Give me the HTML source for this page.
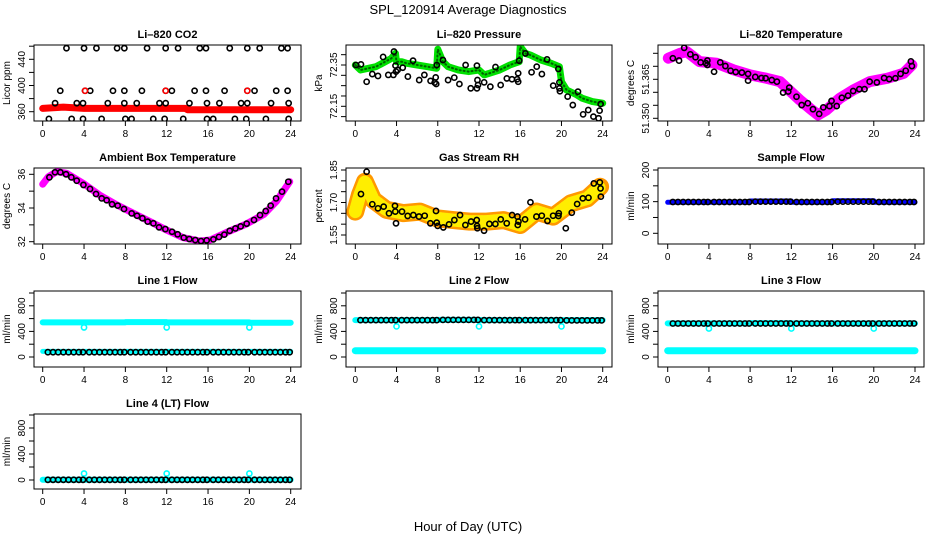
<!DOCTYPE html>
<html><head><meta charset="utf-8">
<style>
html,body{margin:0;padding:0;background:#fff;}
svg{display:block;font-family:"Liberation Sans",Arial,sans-serif;}
</style></head>
<body>
<svg id="chart" width="936" height="540" viewBox="0 0 936 540" xmlns="http://www.w3.org/2000/svg">
<text x="468" y="14" text-anchor="middle" font-size="13">SPL_120914  Average Diagnostics</text>
<text x="468" y="531" text-anchor="middle" font-size="13">Hour of Day (UTC)</text>
</svg>
<script>
// ---------- DATA ----------
const xTickValues = [0,4,8,12,16,20,24];

// Li-820 CO2
const co2BandHours = [0,1,2,4,8,12,13.8,14,16,20,24];
const co2BandValues = [365,366,367,365,365,365,365,363,363,363,363];
const co2PointHours = [2.3,4,5.2,7.2,7.9,10.1,11.9,13.1,15.2,15.8,18.1,19.8,21,23.1,23.7,
  1.7,4.1,4.6,6.8,7.9,9.6,11.9,12.5,14.7,15.8,17.6,19.8,20.5,22.6,23.7,
  1.2,3.3,3.9,6.3,7.9,9.1,11.3,11.9,14.2,15.9,17.1,19.2,19.8,22.1,23.8,
  0.6,2.8,3.9,5.7,8,8.6,10.7,11.8,13.6,15.9,16.5,18.6,19.7,21.6,23.8];
const co2PointValues = [457,457,457,457,457,457,457,457,457,457,457,457,457,457,457,
  392,392,392,392,392,392,392,392,392,392,392,392,392,392,392,
  373,373,373,373,373,373,373,373,373,373,373,373,373,373,373,
  349,349,349,349,349,349,349,349,349,349,349,349,349,349,349];
const co2RedHours = [4.1,11.9,19.8];
const co2RedValues = [392,392,392];

// Li-820 Pressure
const presBandHours = [0,0.5,2,3.5,3.9,4.0,4.5,5,6,7,7.9,8.0,8.5,9,10,11,12,12.5,13,14,15,15.9,16,16.5,17,18,19,19.8,20,20.5,21.5,22,23,24];
const presBandValues = [72.35,72.326,72.342,72.382,72.406,72.366,72.366,72.358,72.35,72.342,72.334,72.426,72.366,72.342,72.326,72.318,72.326,72.302,72.31,72.326,72.35,72.366,72.439,72.406,72.398,72.374,72.358,72.342,72.269,72.229,72.205,72.189,72.173,72.165];
const presPointHours = [0.06,0.55,1.1,1.65,2.2,2.7,3.2,3.7,3.75,3.9,3.95,4.1,4.6,5.1,5.6,6.2,6.7,7.3,7.7,7.8,7.85,7.9,8.5,9.0,9.6,10.1,10.7,11.2,11.8,11.8,11.85,11.9,12.5,13.1,13.6,14.1,14.7,15.2,15.7,15.8,15.8,15.9,16.5,17.1,17.6,18.1,18.6,19.2,19.7,19.8,19.8,19.85,20.6,21.1,21.6,22.1,22.6,23.1,23.6,23.7,23.8];
const presPointValues = [72.350,72.353,72.269,72.306,72.297,72.389,72.302,72.302,72.415,72.347,72.318,72.326,72.337,72.294,72.371,72.277,72.302,72.273,72.265,72.290,72.258,72.350,72.374,72.277,72.289,72.258,72.350,72.237,72.347,72.237,72.277,72.253,72.266,72.245,72.340,72.253,72.285,72.281,72.281,72.310,72.269,72.371,72.406,72.315,72.342,72.306,72.377,72.250,72.331,72.266,72.237,72.223,72.197,72.156,72.221,72.111,72.132,72.100,72.092,72.129,72.161];

// Li-820 Temperature
const tempBandHours = [0.06,1.2,1.85,3.1,4.75,6.4,8.0,9.6,10.9,11.6,12.8,13.8,14.6,15.4,16.7,18.0,19.6,21.3,22.9,23.7];
const tempBandValues = [51.3731,51.3750,51.3756,51.3718,51.3712,51.3686,51.3667,51.3654,51.3641,51.3615,51.3571,51.3538,51.3513,51.3532,51.3577,51.3609,51.3641,51.3654,51.3673,51.3705];
const tempPointHours = [0.5,1.1,1.6,2.2,2.7,3.2,3.7,3.85,3.85,4.5,5.1,5.6,6.1,6.6,7.2,7.8,7.8,8.5,9.1,9.5,10.1,10.6,11.2,11.7,11.8,12.5,13.0,13.6,14.1,14.7,15.1,15.7,15.9,16.4,16.9,17.5,18.0,18.6,19.1,19.6,20.3,21.0,21.5,22.1,22.6,23.1,23.6,23.7];
const tempPointValues = [51.3731,51.3722,51.3771,51.3746,51.3735,51.3715,51.3712,51.3722,51.3705,51.3679,51.3715,51.3701,51.3683,51.3678,51.3676,51.3671,51.3645,51.3659,51.3655,51.3654,51.3647,51.3641,51.3599,51.3603,51.3618,51.3583,51.3551,51.3558,51.3535,51.3517,51.3542,51.3547,51.3567,51.3547,51.3579,51.3587,51.3605,51.3612,51.3612,51.3641,51.3638,51.3655,51.3651,51.3654,51.3671,51.3683,51.3719,51.3701];

// Ambient Box Temperature
const ambBandHours = [0,0.55,1.35,2.3,3.9,5.5,7.2,8.8,10.4,12,13.6,15.2,16.2,17.8,19.7,21.4,22.6,23.9];
const ambBandValues = [35.41,35.86,36.16,36.06,35.47,34.77,34.18,33.68,33.19,32.69,32.24,32.04,32.10,32.55,33.05,33.62,34.38,35.56];
const ambPointHours = [0.65,1.19,1.71,2.26,2.77,3.29,3.94,4.58,5.16,5.71,6.19,6.71,7.26,7.87,8.61,9.13,9.65,10.16,10.71,11.26,11.87,12.52,13.06,13.65,14.19,14.77,15.32,15.87,16.52,17.06,17.58,18.10,18.65,19.16,19.74,20.45,21.03,21.58,22.06,22.58,23.16,23.77];
const ambPointValues = [35.82,36.12,36.12,36.00,35.82,35.62,35.37,35.13,34.83,34.57,34.46,34.22,34.14,33.94,33.68,33.54,33.39,33.19,33.09,32.85,32.75,32.59,32.44,32.24,32.16,32.10,32.04,32.08,32.14,32.28,32.42,32.65,32.79,32.91,33.07,33.29,33.58,33.82,34.14,34.57,34.97,35.56];

// Gas Stream RH
const rhBandHours = [0,0.45,0.94,1.75,3.04,4.66,6.28,7.9,9.5,11.1,12.75,14.4,16.0,17.6,19.2,20.9,22.5,23.75];
const rhBandValues = [1.658,1.735,1.796,1.712,1.666,1.651,1.658,1.627,1.619,1.612,1.612,1.619,1.596,1.658,1.635,1.696,1.719,1.773];
const rhPointHours = [1.10,0.55,1.65,2.2,2.75,3.27,3.85,3.88,3.95,4.53,5.08,5.63,6.18,6.73,7.28,7.83,7.9,7.99,8.54,9.09,9.61,10.16,10.68,11.23,11.78,11.81,11.84,12.49,13.01,13.59,14.11,14.69,15.21,15.73,15.76,15.83,16.47,16.99,17.57,18.09,18.64,19.19,19.71,19.74,20.42,21.0,21.52,22.07,22.62,23.14,23.72,23.79,23.82];
const rhPointValues = [1.842,1.739,1.692,1.673,1.681,1.650,1.685,1.658,1.604,1.658,1.638,1.642,1.635,1.639,1.604,1.661,1.607,1.592,1.585,1.599,1.619,1.642,1.596,1.612,1.619,1.592,1.581,1.570,1.601,1.601,1.622,1.604,1.642,1.635,1.596,1.612,1.622,1.701,1.635,1.639,1.615,1.639,1.638,1.650,1.581,1.653,1.693,1.719,1.722,1.788,1.793,1.765,1.727];

// Flow panels: segment boundaries (4-hour blocks) and levels
const flowSegHours = [0,4,8,12,16,20,24];
const flowPointHours = [0.5,1.0,1.5,2.0,2.5,3.0,3.5,3.9,4.5,5.0,5.5,6.0,6.5,7.0,7.5,7.9,8.5,9.0,9.5,10.0,10.5,11.0,11.5,11.9,12.5,13.0,13.5,14.0,14.5,15.0,15.5,15.9,16.5,17.0,17.5,18.0,18.5,19.0,19.5,19.9,20.5,21.0,21.5,22.0,22.5,23.0,23.5,23.9];
const dipHours = [4,12,20];

const sampleBandLevels = [98,98,102,98,103,98];
const sampleBlackLevels = [99,99,100,99,100,99];

const line1HighLevels = [540,540,545,540,540,535];
const line1LowLevels = [88,88,88,88,88,88];
const line1BlackLevels = [75,75,75,75,75,75];
const line1DipValues = [462,462,462];

const line2HighLevels = [576,576,580,576,576,576];
const line2LowLevels = [99,99,99,99,99,99];
const line2BlackLevels = [576,576,580,576,576,572];
const line2DipValues = [478,478,478];

const line3HighLevels = [525,525,530,525,525,525];
const line3LowLevels = [99,99,99,99,99,99];
const line3BlackLevels = [524,524,524,524,524,524];
const line3DipValues = [445,445,445];

const line4HighLevels = [5,5,5,5,5,5];
const line4BlackLevels = [3,3,3,3,3,3];
const line4DipValues = [100,100,100];

// ---------- LAYOUT ----------
const NS = "http://www.w3.org/2000/svg";
const svg = document.getElementById('chart');
const cols = [{l:34,r:301,x0:42.7,x24:290.7},{l:346,r:612,x0:355.3,x24:602.7},{l:658,r:924,x0:667.7,x24:915}];
const rows = [{t:45,b:121},{t:168,b:244},{t:291,b:367},{t:414,b:489}];

function mk(tag, attrs, parent){
  const e = document.createElementNS(NS, tag);
  for (const k in attrs) e.setAttribute(k, attrs[k]);
  (parent||svg).appendChild(e);
  return e;
}

function panel(name, title, ytitle, c, r, yA, pA, yB, pB, yTicks, yLabels){
  const col = cols[c], row = rows[r];
  const g = mk('g', {});
  
  
  const xs = h => col.x0 + (h/24)*(col.x24-col.x0);
  const ys = v => pA + (v-yA)*(pB-pA)/(yB-yA);
  const clipId = 'clip-' + name;
  const cp = mk('clipPath', {id:clipId}, g);
  mk('rect', {x:col.l, y:row.t, width:col.r-col.l, height:row.b-row.t}, cp);
  const plot = mk('g', {'clip-path':'url(#'+clipId+')'}, g);
  
  
  const box = mk('rect', {x:col.l, y:row.t, width:col.r-col.l, height:row.b-row.t, fill:'none', stroke:'#000', 'stroke-width':1}, g);
  
  
  const t = mk('text', {x:(col.l+col.r)/2, y:row.t-7, 'text-anchor':'middle', 'font-size':11, 'font-weight':'bold'}, g);
  t.textContent = title;
  
  
  const yt = mk('text', {x:0, y:0, 'text-anchor':'middle', 'font-size':10, transform:'translate('+(col.l-24)+','+((row.t+row.b)/2)+') rotate(-90)'}, g);
  yt.textContent = ytitle;
  
  
  const yax = mk('g', {}, g);
  
  
  const yFirst = ys(yTicks[0]), yLast = ys(yTicks[yTicks.length-1]);
  mk('line', {x1:col.l, x2:col.l, y1:yFirst, y2:yLast, stroke:'#000'}, yax);
  yTicks.forEach((v,i)=>{
    const y = ys(v);
    mk('line', {x1:col.l-5, x2:col.l, y1:y, y2:y, stroke:'#000'}, yax);
    if (yLabels[i]) {
      const lb = mk('text', {x:0, y:0, 'text-anchor':'middle', 'font-size':10, transform:'translate('+(col.l-9)+','+y+') rotate(-90)'}, yax);
      lb.textContent = yLabels[i];
      
      
    }
  });
  const xax = mk('g', {}, g);
  
  
  mk('line', {x1:xs(0), x2:xs(24), y1:row.b, y2:row.b, stroke:'#000'}, xax);
  xTickValues.forEach(h=>{
    mk('line', {x1:xs(h), x2:xs(h), y1:row.b, y2:row.b+5, stroke:'#000'}, xax);
    const lb = mk('text', {x:xs(h), y:row.b+16, 'text-anchor':'middle', 'font-size':10}, xax);
    lb.textContent = h;
    
    
  });
  return {plot, xs, ys};
}

function band(p, name, hours, vals, color, width, dash){
  const pts = hours.map((h,i)=>p.xs(h).toFixed(1)+','+p.ys(vals[i]).toFixed(1)).join(' ');
  const pl = mk('polyline', {points:pts, fill:'none', stroke:color, 'stroke-width':width, 'stroke-linejoin':'round', 'stroke-linecap':'round'}, p.plot);
  if (dash) pl.setAttribute('stroke-dasharray', dash);
  
  
}
function pts(p, name, hours, vals, color, r){
  const g = mk('g', {}, p.plot);
  
  
  hours.forEach((h,i)=>{
    const c = mk('circle', {cx:p.xs(h), cy:p.ys(vals[i]), r:r||2.6, fill:'none', stroke:color, 'stroke-width':1.6}, g);
    
    
  });
}
function segVal(h, levels){
  let k = 0;
  for (let i=0;i<flowSegHours.length-1;i++) if (h>=flowSegHours[i]) k=i;
  return levels[k];
}
function stepBand(p, name, levels, color, width){
  const hs = [], vs = [];
  for (let i=0;i<levels.length;i++){ hs.push(flowSegHours[i]); vs.push(levels[i]); hs.push(flowSegHours[i+1]); vs.push(levels[i]); }
  band(p, name, hs, vs, color, width);
}
function flowPts(p, name, levels, color){
  pts(p, name, flowPointHours, flowPointHours.map(h=>segVal(h, levels)), color);
}

// ---------- PANELS ----------
const flowTicks = [0,200,400,600,800,1000], flowLabels = ['0','','400','','800',''];

let p = panel('co2','Li\u2013820 CO2','Licor ppm',0,0,360,111.7,460,46.2,[360,380,400,420,440,460],['360','','400','','440','']);
band(p,'co2-red-band',co2BandHours,co2BandValues,'#ff0000',7);
pts(p,'co2-black-points',co2PointHours,co2PointValues,'#000');
pts(p,'co2-red-points',co2RedHours,co2RedValues,'#ff0000');

p = panel('pressure','Li\u2013820 Pressure','kPa',1,0,72.35,65,72.15,106.3,[72.10,72.15,72.20,72.25,72.30,72.35,72.40],['','72.15','','','','72.35','']);
band(p,'pressure-green-band',presBandHours,presBandValues,'#00e000',7);
band(p,'pressure-green-dots',presBandHours,presBandValues,'#006000',2,'1 3');
pts(p,'pressure-black-points',presPointHours,presPointValues,'#000');

p = panel('li820-temp','Li\u2013820 Temperature','degrees C',2,0,51.350,118.3,51.375,53.3,[51.350,51.355,51.360,51.365,51.370,51.375],['51.350','','','51.365','','']);
band(p,'temp-magenta-band',tempBandHours,tempBandValues,'#ff00ff',11);
pts(p,'temp-black-points',tempPointHours,tempPointValues,'#000');

p = panel('ambient','Ambient Box Temperature','degrees C',0,1,36,174.3,32,241.7,[32,33,34,35,36],['32','','34','','36']);
band(p,'ambient-magenta-band',ambBandHours,ambBandValues,'#ff00ff',7);
pts(p,'ambient-black-points',ambPointHours,ambPointValues,'#000');

p = panel('rh','Gas Stream RH','percent',1,1,1.85,170,1.55,235,[1.55,1.60,1.65,1.70,1.75,1.80,1.85],['1.55','','','1.70','','','1.85']);
band(p,'rh-orange-band',rhBandHours,rhBandValues,'#ff9800',18);
band(p,'rh-yellow-dots',rhBandHours,rhBandValues,'#ffee00',13,'1 2');
pts(p,'rh-black-points',rhPointHours,rhPointValues,'#000');

p = panel('sample-flow','Sample Flow','ml/min',2,1,200,170,0,233.3,[0,50,100,150,200],['0','','100','','200']);
stepBand(p,'sample-blue-band',sampleBandLevels,'#0000ff',5);
flowPts(p,'sample-black-points',sampleBlackLevels,'#000');

p = panel('line1','Line 1 Flow','ml/min',0,2,0,357,1000,293,flowTicks,flowLabels);
stepBand(p,'line1-cyan-high',line1HighLevels,'#00ffff',6);
stepBand(p,'line1-cyan-low',line1LowLevels,'#00ffff',5);
pts(p,'line1-cyan-dips',dipHours,line1DipValues,'#00ffff');
flowPts(p,'line1-black-points',line1BlackLevels,'#000');

p = panel('line2','Line 2 Flow','ml/min',1,2,0,357,1000,293,flowTicks,flowLabels);
stepBand(p,'line2-cyan-high',line2HighLevels,'#00ffff',6);
stepBand(p,'line2-cyan-low',line2LowLevels,'#00ffff',7);
pts(p,'line2-cyan-dips',dipHours,line2DipValues,'#00ffff');
flowPts(p,'line2-black-points',line2BlackLevels,'#000');

p = panel('line3','Line 3 Flow','ml/min',2,2,0,357,1000,293,flowTicks,flowLabels);
stepBand(p,'line3-cyan-high',line3HighLevels,'#00ffff',6);
stepBand(p,'line3-cyan-low',line3LowLevels,'#00ffff',7);
pts(p,'line3-cyan-dips',dipHours,line3DipValues,'#00ffff');
flowPts(p,'line3-black-points',line3BlackLevels,'#000');

p = panel('line4','Line 4 (LT) Flow','ml/min',0,3,0,480,1000,415,flowTicks,flowLabels);
stepBand(p,'line4-cyan-band',line4HighLevels,'#00ffff',6);
pts(p,'line4-cyan-dips',dipHours,line4DipValues,'#00ffff');
flowPts(p,'line4-black-points',line4BlackLevels,'#000');
</script>
</body></html>
